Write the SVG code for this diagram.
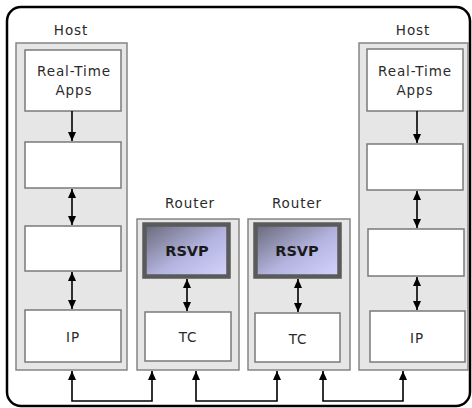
<svg xmlns="http://www.w3.org/2000/svg" width="472" height="408" viewBox="0 0 472 408">
<defs>
<marker id="ah" markerUnits="userSpaceOnUse" markerWidth="10" markerHeight="10" refX="9" refY="4" orient="auto-start-reverse" viewBox="0 0 10 8">
<path d="M0,0 L9,4 L0,8 z" fill="#000"/>
</marker>
<linearGradient id="rg" x1="0" y1="0" x2="1" y2="1">
<stop offset="0" stop-color="#686878"/>
<stop offset="0.55" stop-color="#b4b4e0"/>
<stop offset="1" stop-color="#d4d4ff"/>
</linearGradient>
<style>
.frame{fill:#fff;stroke:#000;stroke-width:2.5}
.outer{fill:#e6e6e6;stroke:#858585;stroke-width:1.5}
.inner{fill:#fff;stroke:#7a7a7a;stroke-width:1.5}
.rsvp{fill:url(#rg);stroke:#5a5a5a;stroke-width:4.5}
.t{font-family:"DejaVu Sans",Verdana,sans-serif;font-size:13.5px;letter-spacing:0.9px;fill:#2a2a2a;text-anchor:middle}
.b{font-family:"DejaVu Sans",Verdana,sans-serif;font-size:14.5px;font-weight:bold;fill:#1a1a1a;text-anchor:middle}
.c{fill:none;stroke:#000;stroke-width:1.6}
</style>
</defs>
<rect class="frame" x="7" y="7" width="463" height="399" rx="14" ry="14"/>
<g id="host-left">
<text class="t" x="71" y="35">Host</text>
<rect class="outer" x="16" y="43" width="111" height="327"/>
<rect class="inner" x="25" y="50" width="96" height="61"/>
<text class="t" x="74" y="76">Real-Time</text>
<text class="t" x="74" y="95">Apps</text>
<rect class="inner" x="25" y="142" width="96" height="46"/>
<rect class="inner" x="25" y="226" width="96" height="45"/>
<rect class="inner" x="25" y="310" width="96" height="52"/>
<text class="t" x="73" y="342">IP</text>
</g>
<g id="router-1">
<text class="t" x="190" y="208">Router</text>
<rect class="outer" x="137" y="219" width="102" height="151"/>
<rect class="rsvp" x="144.5" y="224.5" width="84" height="52"/>
<text class="b" x="187" y="256">RSVP</text>
<rect class="inner" x="145" y="312" width="86" height="49"/>
<text class="t" x="188" y="342">TC</text>
</g>
<g id="router-2">
<text class="t" x="297" y="208">Router</text>
<rect class="outer" x="248" y="219" width="102" height="151"/>
<rect class="rsvp" x="255.5" y="224.5" width="84" height="52"/>
<text class="b" x="297" y="256">RSVP</text>
<rect class="inner" x="255" y="313" width="85" height="49"/>
<text class="t" x="298" y="344">TC</text>
</g>
<g id="host-right">
<text class="t" x="413" y="35">Host</text>
<rect class="outer" x="359" y="43" width="109" height="327"/>
<rect class="inner" x="367" y="49" width="96" height="62"/>
<text class="t" x="415" y="76">Real-Time</text>
<text class="t" x="415" y="95">Apps</text>
<rect class="inner" x="367" y="144" width="96" height="46"/>
<rect class="inner" x="368" y="229" width="96" height="47"/>
<rect class="inner" x="370" y="311" width="95" height="51"/>
<text class="t" x="417" y="343">IP</text>
</g>
<g id="connectors">
<line class="c" x1="72" y1="111" x2="72" y2="141" marker-end="url(#ah)"/>
<line class="c" x1="72" y1="189" x2="72" y2="225" marker-start="url(#ah)" marker-end="url(#ah)"/>
<line class="c" x1="72" y1="272" x2="72" y2="309" marker-start="url(#ah)" marker-end="url(#ah)"/>
<line class="c" x1="187" y1="279" x2="187" y2="311" marker-start="url(#ah)" marker-end="url(#ah)"/>
<line class="c" x1="298" y1="279" x2="298" y2="312" marker-start="url(#ah)" marker-end="url(#ah)"/>
<line class="c" x1="417" y1="111" x2="417" y2="143" marker-end="url(#ah)"/>
<line class="c" x1="417" y1="191" x2="417" y2="228" marker-start="url(#ah)" marker-end="url(#ah)"/>
<line class="c" x1="417" y1="277" x2="417" y2="310" marker-start="url(#ah)" marker-end="url(#ah)"/>
<path class="c" d="M72,371 V401 H152 V371" marker-start="url(#ah)" marker-end="url(#ah)"/>
<path class="c" d="M196,371 V401 H277 V371" marker-start="url(#ah)" marker-end="url(#ah)"/>
<path class="c" d="M323,371 V401 H403 V371" marker-start="url(#ah)" marker-end="url(#ah)"/>
</g>
</svg>
